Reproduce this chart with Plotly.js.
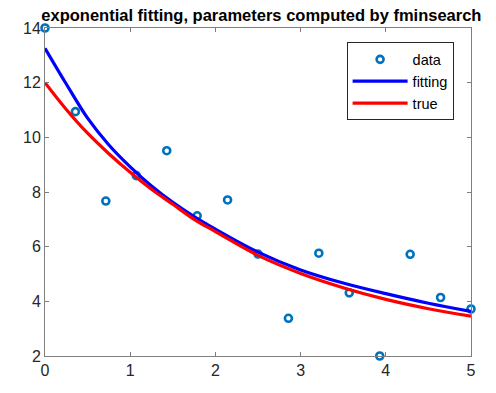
<!DOCTYPE html>
<html>
<head>
<meta charset="utf-8">
<script src="https://cdn.plot.ly/plotly-3.0.1.min.js"></script>
<style>html,body{margin:0;padding:0;background:#fff;}#chart{width:496px;height:393px;}</style>
</head>
<body>
<div id="chart"></div>
<script>
// Observed data points
const dataX = [0, 0.357, 0.714, 1.071, 1.429, 1.786, 2.143, 2.5, 2.857, 3.214, 3.571, 3.929, 4.286, 4.643, 5];
const dataY = [14, 10.94, 7.67, 8.60, 9.51, 7.13, 7.71, 5.73, 3.38, 5.76, 4.31, 2.0, 5.72, 4.14, 3.72];

// Curves
const curveX = [0, 0.25, 0.5, 0.75, 1, 1.25, 1.5, 1.75, 2, 2.5, 3, 3.5, 4, 4.5, 5];
const fitY  = [13.26, 11.95, 10.7, 9.72, 8.92, 8.22, 7.62, 7.1, 6.64, 5.8, 5.15, 4.67, 4.28, 3.93, 3.63];
const trueY = [12.0, 11.02, 10.15, 9.4, 8.72, 8.1, 7.55, 7.0, 6.55, 5.68, 5.02, 4.5, 4.07, 3.73, 3.46];

const xTicks = [0, 1, 2, 3, 4, 5];
const yTicks = [2, 4, 6, 8, 10, 12, 14];

const traces = [
  {x: dataX, y: dataY, name: 'data', mode: 'markers', type: 'scatter',
   marker: {symbol: 'circle-open', size: 7, color: '#0072BD', line: {width: 2.6, color: '#0072BD'}},
   cliponaxis: false},
  {x: curveX, y: fitY, name: 'fitting', mode: 'lines', type: 'scatter',
   line: {color: '#0000FF', width: 3.2, shape: 'spline', smoothing: 1}},
  {x: curveX, y: trueY, name: 'true', mode: 'lines', type: 'scatter',
   line: {color: '#FF0000', width: 3.2, shape: 'spline', smoothing: 1}}
];

const axisCommon = {
  showgrid: false, zeroline: false, showline: true, linecolor: '#808080', linewidth: 1,
  mirror: 'ticks', ticks: 'inside', ticklen: 4, tickcolor: '#808080', tickwidth: 1,
  tickfont: {family: 'Liberation Sans, Arial, sans-serif', size: 16, color: '#262626'}
};

const layout = {
  width: 496, height: 393,
  margin: {l: 45, r: 25, t: 28, b: 37},
  paper_bgcolor: '#fff', plot_bgcolor: '#fff',
  title: {text: 'exponential fitting, parameters computed by fminsearch',
          font: {family: 'Liberation Sans, Arial, sans-serif', size: 16.5, color: '#000', weight: 'bold'},
          x: 0.527, xanchor: 'center', y: 0.96, yanchor: 'middle'},
  xaxis: Object.assign({}, axisCommon, {range: [0, 5], tickvals: xTicks, ticktext: xTicks.map(String)}),
  yaxis: Object.assign({}, axisCommon, {range: [2, 14], tickvals: yTicks, ticktext: yTicks.map(String)}),
  showlegend: true,
  legend: {x: 0.708, y: 0.956, xanchor: 'left', yanchor: 'top',
           bgcolor: '#fff', bordercolor: '#262626', borderwidth: 1,
           font: {family: 'Liberation Sans, Arial, sans-serif', size: 14.5, color: '#000'},
           itemwidth: 55, tracegroupgap: 0},
  annotations: [{text: 't', xref: 'paper', yref: 'paper', x: 0.5, y: -0.1, xanchor: 'center', yanchor: 'top',
                 showarrow: false, font: {family: 'Liberation Sans, Arial, sans-serif', size: 16, color: '#262626'}}]
};

Plotly.newPlot('chart', traces, layout, {displayModeBar: false, staticPlot: true});
</script>
</body>
</html>
